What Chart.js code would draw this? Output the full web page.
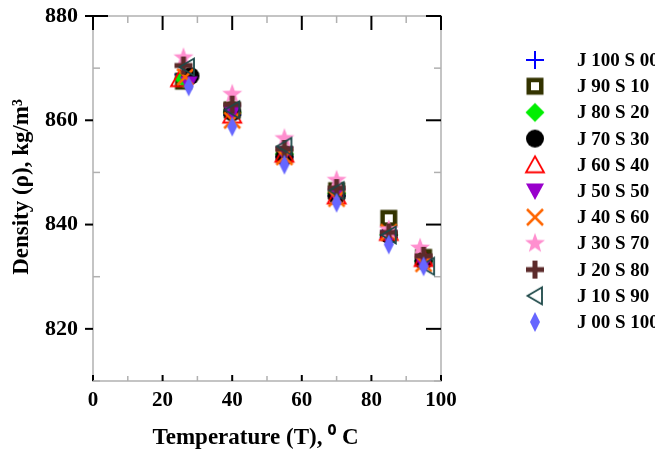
<!DOCTYPE html>
<html><head><meta charset="utf-8">
<script src="https://cdn.jsdelivr.net/npm/chart.js@4/dist/chart.umd.min.js"></script>
<style>html,body{margin:0;padding:0;background:#fff;}#wrap{width:655px;height:458px;}</style>
</head><body><div id="wrap"><canvas id="c" width="655" height="458"></canvas></div>
<script>
// ---- data ----
const seriesNames = ["J 100 S 00","J 90 S 10","J 80 S 20","J 70 S 30","J 60 S 40","J 50 S 50","J 40 S 60","J 30 S 70","J 20 S 80","J 10 S 90","J 00 S 100"];
const t_J100S00 = [26, 40, 55, 70, 85, 95];
const r_J100S00 = [868.8, 861, 853, 845.5, 837.5, 833];
const t_J90S10 = [26, 40, 55, 70, 85, 95];
const r_J90S10 = [867.5, 862, 853.5, 846.5, 841.2, 833.7];
const t_J80S20 = [26, 40, 55, 70, 85, 95];
const r_J80S20 = [868, 861.5, 853.5, 846, 838, 833];
const t_J70S30 = [28, 40, 55, 70, 85, 95];
const r_J70S30 = [868.5, 861.5, 853, 845.5, 838, 833];
const t_J60S40 = [25, 40, 55, 70, 85, 95];
const r_J60S40 = [868, 861, 853.5, 845.5, 838.5, 833.5];
const t_J50S50 = [27.5, 40, 55, 70, 85, 95];
const r_J50S50 = [867, 861.5, 853.5, 845.5, 837.5, 832.5];
const t_J40S60 = [26.5, 40, 55, 70, 85, 95];
const r_J40S60 = [868.3, 860, 853, 845, 838.5, 832.5];
const t_J30S70 = [26, 40, 55, 70, 85, 94];
const r_J30S70 = [872, 865, 856.5, 848.5, 839, 835.5];
const t_J20S80 = [26, 40, 55, 70, 85, 95];
const r_J20S80 = [870.5, 863, 854.5, 847, 838.5, 834];
const t_J10S90 = [27, 40, 55, 70, 85, 96];
const r_J10S90 = [870.2, 862, 855, 846.5, 838, 832];
const t_J00S100 = [27.5, 40, 55, 70, 85, 95];
const r_J00S100 = [866.5, 858.8, 851.5, 844.2, 836.2, 832];
const xTickLabels = [0, 20, 40, 60, 80, 100];
const yTickLabels = [820, 840, 860, 880];

const allT = [t_J100S00,t_J90S10,t_J80S20,t_J70S30,t_J60S40,t_J50S50,t_J40S60,t_J30S70,t_J20S80,t_J10S90,t_J00S100];
const allR = [r_J100S00,r_J90S10,r_J80S20,r_J70S30,r_J60S40,r_J50S50,r_J40S60,r_J30S70,r_J20S80,r_J10S90,r_J00S100];

// ---- marker glyphs ----
function makeMarker(kind, color) {
  const s = 24, m = 12;
  const c = document.createElement('canvas'); c.width = s; c.height = s;
  const g = c.getContext('2d');
  g.strokeStyle = color; g.fillStyle = color; g.lineJoin = 'miter';
  const poly = (pts) => { g.beginPath(); g.moveTo(pts[0][0], pts[0][1]); for (let i = 1; i < pts.length; i++) g.lineTo(pts[i][0], pts[i][1]); g.closePath(); };
  switch (kind) {
    case 'plus': g.lineWidth = 2; g.beginPath(); g.moveTo(m-9, m); g.lineTo(m+9, m); g.moveTo(m, m-9); g.lineTo(m, m+9); g.stroke(); break;
    case 'square': g.fillRect(m-8.5, m-8.5, 17, 17); g.fillStyle = '#fff'; g.fillRect(m-4, m-4, 8, 8); break;
    case 'diamond': poly([[m, m-9.5],[m+9.5, m],[m, m+9.5],[m-9.5, m]]); g.fill(); break;
    case 'circle': g.beginPath(); g.arc(m, m, 9, 0, Math.PI*2); g.fill(); break;
    case 'triUp': g.lineWidth = 1.8; poly([[m, m-8.5],[m+9, m+7.5],[m-9, m+7.5]]); g.stroke(); break;
    case 'triDown': poly([[m-9, m-7.5],[m+9, m-7.5],[m, m+9]]); g.fill(); break;
    case 'x': g.lineWidth = 2.5; g.beginPath(); g.moveTo(m-8, m-8); g.lineTo(m+8, m+8); g.moveTo(m+8, m-8); g.lineTo(m-8, m+8); g.stroke(); break;
    case 'star': { const pts = []; for (let i = 0; i < 10; i++) { const r = i % 2 ? 4.3 : 10.5; const a = -Math.PI/2 + i*Math.PI/5; pts.push([m + r*Math.cos(a), m + r*Math.sin(a)]); } poly(pts); g.fill(); break; }
    case 'thickPlus': g.fillRect(m-9, m-2.5, 18, 5); g.fillRect(m-2.5, m-9, 5, 18); break;
    case 'triLeft': g.lineWidth = 1.8; poly([[m-7.5, m],[m+7, m-8.5],[m+7, m+8.5]]); g.stroke(); break;
    case 'thinDiamond': poly([[m, m-10],[m+5, m],[m, m+10],[m-5, m]]); g.fill(); break;
  }
  return c;
}
const markerKinds = ['plus','square','diamond','circle','triUp','triDown','x','star','thickPlus','triLeft','thinDiamond'];
const markerColors = ['#0000ff','#333300','#00ee00','#000000','#ff0000','#9900cc','#ff6600','#ff8fcf','#5c2b2b','#1d4848','#6666ff'];

const datasets = seriesNames.map((name, i) => ({
  label: name,
  data: allT[i].map((t, j) => ({x: t, y: allR[i][j]})),
  pointStyle: makeMarker(markerKinds[i], markerColors[i]),
  pointRadius: 9,
  borderColor: markerColors[i],
  backgroundColor: markerColors[i],
  showLine: false,
  order: seriesNames.length - i
}));

const FONT = '"Liberation Serif", "Times New Roman", serif';
const NB = '\u00a0\u00a0\u00a0\u00a0';

const framePlugin = {
  id: 'frame',
  beforeDatasetsDraw(chart) {
    const {ctx, chartArea: a, scales: {x, y}} = chart;
    ctx.save();
    ctx.lineCap = 'butt';
    const seg = (x1, y1, x2, y2, col, w) => { ctx.strokeStyle = col; ctx.lineWidth = w; ctx.beginPath(); ctx.moveTo(x1, y1); ctx.lineTo(x2, y2); ctx.stroke(); };
    ctx.strokeStyle = '#c4c4c4'; ctx.lineWidth = 2;
    ctx.strokeRect(a.left, a.top, a.right - a.left, a.bottom - a.top);
    x.ticks.forEach(t => {
      const px = x.getPixelForValue(t.value);
      const major = xTickLabels.includes(t.value);
      if (major) {
        seg(px, a.top, px, a.top + 14, '#000', 2);
        seg(px, a.bottom, px, a.bottom - 6, '#000', 2);
      } else {
        seg(px, a.top, px, a.top + 7, '#b0b0b0', 1.5);
        seg(px, a.bottom, px, a.bottom - 5, '#b0b0b0', 1.5);
      }
    });
    y.ticks.forEach(t => {
      const py = y.getPixelForValue(t.value);
      const major = yTickLabels.includes(t.value);
      if (major) {
        seg(a.left - 8, py, a.left, py, '#000', 2);
        seg(a.right, py, a.right - 15, py, '#000', 2);
      } else {
        seg(a.left, py, a.left + 7, py, '#b0b0b0', 1.5);
        seg(a.right, py, a.right - 7, py, '#b0b0b0', 1.5);
      }
    });
    seg(a.left, a.top, a.left + 15, a.top, '#000', 2);
    ctx.restore();
  }
};

const legendPlugin = {
  id: 'sideLegend',
  afterDraw(chart) {
    const ctx = chart.ctx;
    ctx.save();
    ctx.font = 'bold 19px ' + FONT;
    ctx.fillStyle = '#000';
    ctx.textBaseline = 'middle';
    ctx.textAlign = 'left';
    chart.data.datasets.forEach((ds, i) => {
      const yy = 60 + i * 26.2;
      if (Chart.helpers && Chart.helpers.drawPoint) {
        Chart.helpers.drawPoint(ctx, {pointStyle: ds.pointStyle, radius: 9, rotation: 0, borderWidth: 0}, 535, yy);
      } else {
        ctx.drawImage(ds.pointStyle, 535 - 12, yy - 12);
      }
      ctx.fillText(ds.label, 577, yy + 1);
    });
    ctx.restore();
  }
};

new Chart(document.getElementById('c'), {
  type: 'scatter',
  data: { datasets },
  plugins: [framePlugin, legendPlugin],
  options: {
    responsive: false,
    devicePixelRatio: 1,
    animation: false,
    layout: { autoPadding: false, padding: { left: 8, right: 214, top: 16, bottom: 0 } },
    plugins: { legend: { display: false }, tooltip: { enabled: false } },
    scales: {
      x: {
        type: 'linear', min: 0, max: 100,
        grid: { display: false, drawTicks: false },
        border: { display: false },
        afterFit: s => { s.height = 77; s.paddingLeft = 0; s.paddingRight = 0; },
        ticks: {
          stepSize: 10, autoSkip: false, maxRotation: 0, color: '#000', padding: 7,
          font: { family: FONT, size: 21, weight: 'bold' },
          callback: v => xTickLabels.includes(v) ? String(v) : ''
        },
        title: { display: true, text: 'Temperature (T), \u2070 C' + NB, color: '#000',
          font: { family: FONT, size: 23, weight: 'bold' }, padding: { top: 6, bottom: 6 } }
      },
      y: {
        type: 'linear', min: 810, max: 880,
        grid: { display: false, drawTicks: false },
        border: { display: false },
        afterFit: s => { s.width = 85; s.paddingTop = 0; s.paddingBottom = 0; },
        ticks: {
          stepSize: 10, autoSkip: false, color: '#000', padding: 15,
          font: { family: FONT, size: 22, weight: 'bold' },
          callback: v => yTickLabels.includes(v) ? String(v) : ''
        },
        title: { display: true, text: NB + 'Density (\u03c1), kg/m\u00b3', color: '#000',
          font: { family: FONT, size: 23, weight: 'bold' }, padding: { top: 0, bottom: 0 } }
      }
    }
  }
});
</script></body></html>
